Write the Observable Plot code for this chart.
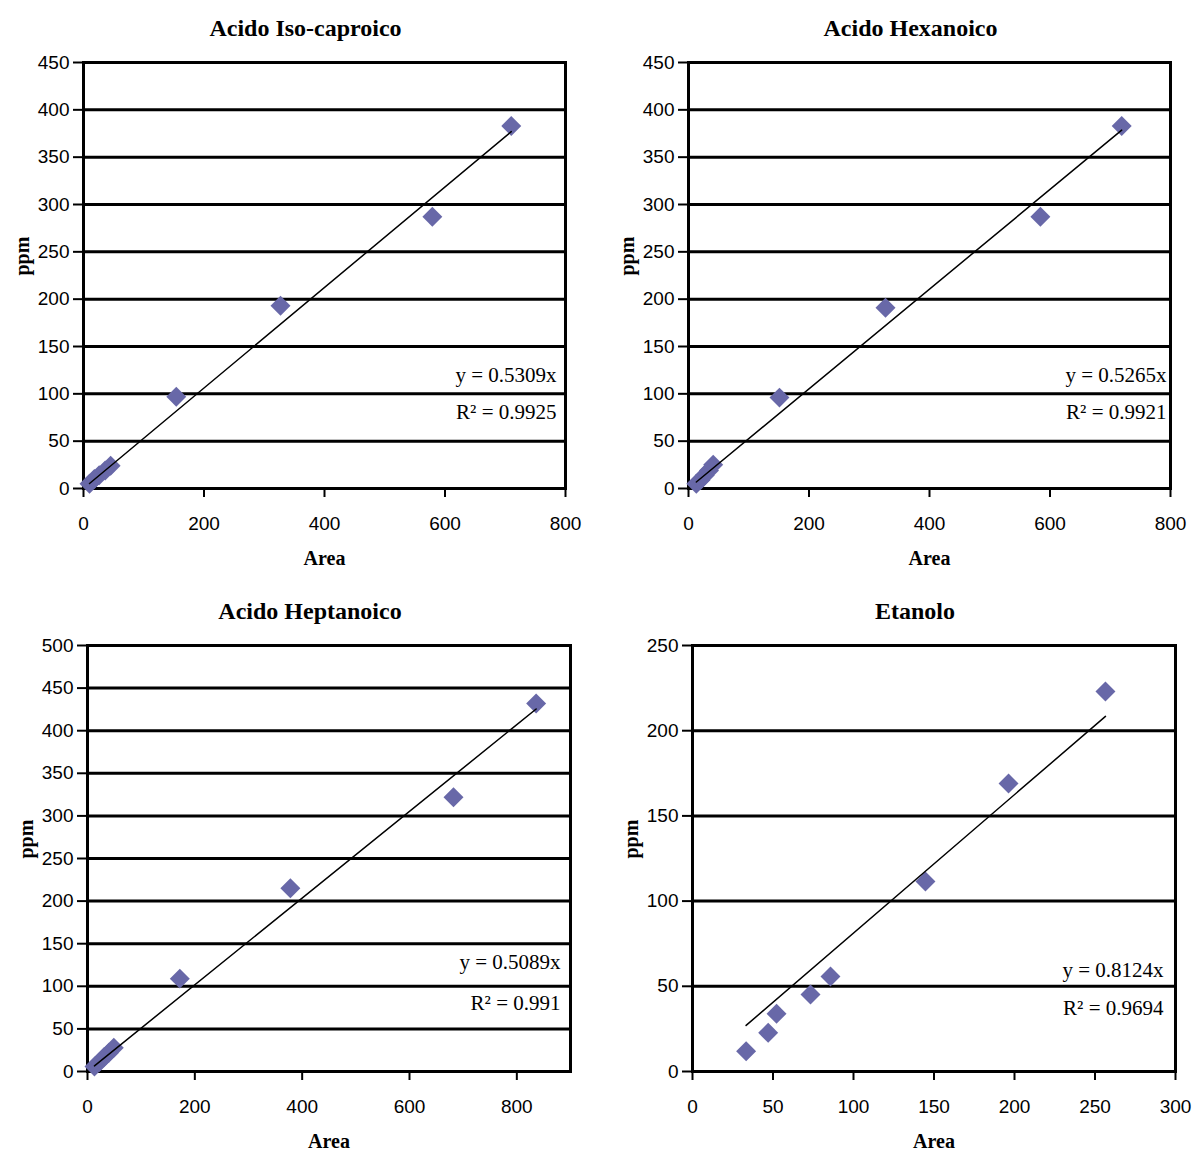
<!DOCTYPE html>
<html><head><meta charset="utf-8">
<script src="https://cdn.jsdelivr.net/npm/d3@7"></script>
<script src="https://cdn.jsdelivr.net/npm/@observablehq/plot@0.6"></script>
<style>
body{margin:0;background:#fff;}
#root{position:relative;width:1196px;height:1153px;background:#fff;}
.panel{position:absolute;}
</style></head><body><div id="root"></div>
<script>
// ---- data ----
const titles = ["Acido Iso-caproico", "Acido Hexanoico", "Acido Heptanoico", "Etanolo"];

const isoArea = [10, 18, 26, 36, 45, 154, 327, 579, 710];
const isoPpm  = [5, 10, 14, 19, 24, 97, 193, 287, 383];

const hexArea = [13, 20, 27, 34, 41, 151, 327, 584, 719];
const hexPpm  = [5, 9, 14, 19, 25, 96, 191, 287, 383];

const hepArea = [13, 22, 31, 40, 49, 172, 378, 682, 836];
const hepPpm  = [6, 11, 17, 22, 28, 109, 215, 322, 432];

const etaArea = [33.3, 47, 52.2, 73.3, 85.7, 144.7, 196.3, 256.5];
const etaPpm  = [11.9, 22.7, 33.9, 45.2, 55.7, 111.5, 169, 223];

const slopes = [0.5309, 0.5265, 0.5089, 0.8124];
const r2Values = ["0.9925", "0.9921", "0.991", "0.9694"];

const xTicksList = [[0, 200, 400, 600, 800], [0, 200, 400, 600, 800], [0, 200, 400, 600, 800], [0, 50, 100, 150, 200, 250, 300]];
const xDomains = [[0, 800], [0, 800], [0, 900], [0, 300]];
const yTicksList = [
  [0, 50, 100, 150, 200, 250, 300, 350, 400, 450],
  [0, 50, 100, 150, 200, 250, 300, 350, 400, 450],
  [0, 50, 100, 150, 200, 250, 300, 350, 400, 450, 500],
  [0, 50, 100, 150, 200, 250]
];
const xLabel = "Area";
const yLabel = "ppm";

// ---- layout ----
const layout = [
  {left: 0,   top: 0,   w: 598, h: 580, ml: 83, mr: 33, mt: 62, mb: 92, eqDx: -9,  eqDy: [-113, -76]},
  {left: 598, top: 0,   w: 598, h: 580, ml: 90, mr: 26, mt: 62, mb: 92, eqDx: -4,  eqDy: [-113, -76]},
  {left: 0,   top: 580, w: 598, h: 573, ml: 87, mr: 28, mt: 65, mb: 82, eqDx: -10, eqDy: [-109, -68]},
  {left: 598, top: 580, w: 598, h: 573, ml: 94, mr: 21, mt: 65, mb: 82, eqDx: -12, eqDy: [-101, -63]}
];
const areas = [isoArea, hexArea, hepArea, etaArea];
const ppms = [isoPpm, hexPpm, hepPpm, etaPpm];
const dotColor = "#6868a8";
const serif = "Liberation Serif, Times New Roman, serif";
const sans = "Liberation Sans, Arial, sans-serif";

const root = document.getElementById("root");
for (let i = 0; i < 4; i++) {
  const L = layout[i];
  const data = areas[i].map((a, j) => ({x: a, y: ppms[i][j]}));
  const xmin = d3.min(areas[i]), xmax = d3.max(areas[i]);
  const fit = [{x: xmin, y: slopes[i] * xmin}, {x: xmax, y: slopes[i] * xmax}];
  const chart = Plot.plot({
    width: L.w, height: L.h,
    marginLeft: L.ml, marginRight: L.mr, marginTop: L.mt, marginBottom: L.mb,
    style: {fontFamily: sans, fontSize: "19px", background: "white", overflow: "visible", color: "black"},
    x: {domain: xDomains[i]},
    y: {domain: d3.extent(yTicksList[i])},
    marks: [
      Plot.ruleY(yTicksList[i], {stroke: "black", strokeWidth: 3}),
      Plot.frame({stroke: "black", strokeWidth: 3}),
      Plot.axisY(yTicksList[i], {tickSize: 10, tickPadding: 4, strokeWidth: 2, label: null, fontSize: 19, fill: "black", stroke: "black"}),
      Plot.axisX(xTicksList[i], {tickSize: 9, tickPadding: 19, strokeWidth: 2, label: null, fontSize: 19, fill: "black", stroke: "black"}),
      Plot.dot(data, {x: "x", y: "y", symbol: "diamond2", r: 9, fill: dotColor, stroke: "none"}),
      Plot.line(fit, {x: "x", y: "y", stroke: "black", strokeWidth: 1.5}),
      Plot.text([titles[i]], {frameAnchor: "top", lineAnchor: "middle", dx: -19, dy: -34, text: d => d, fontFamily: serif, fontWeight: "bold", fontSize: 24}),
      Plot.text([xLabel], {frameAnchor: "bottom", lineAnchor: "middle", dy: 70, text: d => d, fontFamily: serif, fontWeight: "bold", fontSize: 20}),
      Plot.text([yLabel], {frameAnchor: "left", lineAnchor: "middle", dx: -61, rotate: -90, text: d => d, fontFamily: serif, fontWeight: "bold", fontSize: 20}),
      Plot.text(["y = " + slopes[i] + "x"], {frameAnchor: "bottom-right", lineAnchor: "middle", textAnchor: "end", dx: L.eqDx, dy: L.eqDy[0], text: d => d, fontFamily: serif, fontSize: 21}),
      Plot.text(["R\u00B2 = " + r2Values[i]], {frameAnchor: "bottom-right", lineAnchor: "middle", textAnchor: "end", dx: L.eqDx, dy: L.eqDy[1], text: d => d, fontFamily: serif, fontSize: 21})
    ]
  });
  chart.classList.add("panel");
  chart.style.left = L.left + "px";
  chart.style.top = L.top + "px";
  root.appendChild(chart);
}
</script></body></html>
